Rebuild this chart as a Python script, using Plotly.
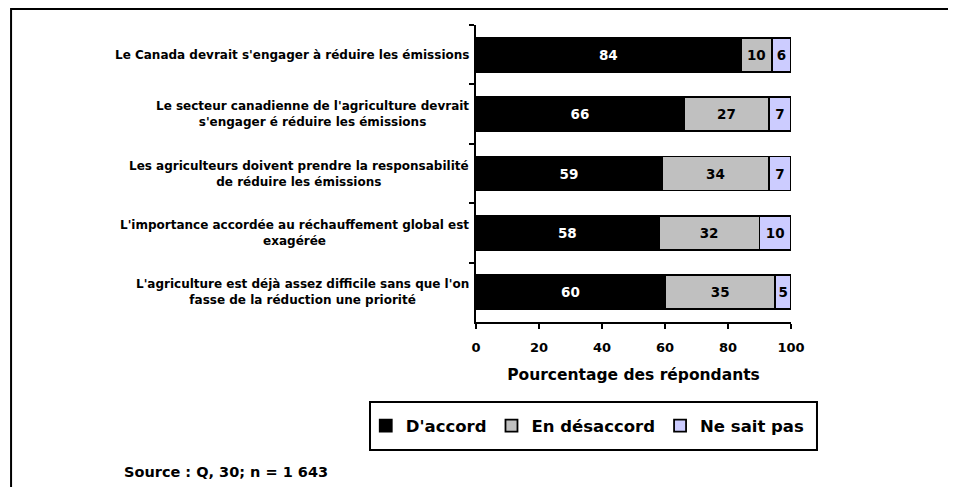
import plotly.graph_objects as go

questions = [
    "Le Canada devrait s'engager à réduire les émissions",
    "Le secteur canadienne de l'agriculture devrait<br>s'engager é réduire les émissions",
    "Les agriculteurs doivent prendre la responsabilité<br>de réduire les émissions",
    "L'importance accordée au réchauffement global est<br>exagérée",
    "L'agriculture est déjà assez difficile sans que l'on<br>fasse de la réduction une priorité",
]
accord = [84, 66, 59, 58, 60]
desaccord = [10, 27, 34, 32, 35]
ne_sait_pas = [6, 7, 7, 10, 5]
series_names = ["D'accord", "En désaccord", "Ne sait pas"]
x_ticks = [0, 20, 40, 60, 80, 100]

FONT = "DejaVu Sans"
colors = ["#000000", "#C0C0C0", "#CCCCFF"]
text_colors = ["#FFFFFF", "#000000", "#000000"]

fig = go.Figure()
for name, vals, col, tcol in zip(series_names, [accord, desaccord, ne_sait_pas], colors, text_colors):
    fig.add_trace(go.Bar(
        y=questions, x=vals, name=name, orientation="h",
        marker=dict(color=col, line=dict(color="black", width=1.8)),
        text=vals, textposition="inside", insidetextanchor="middle",
        textfont=dict(family=FONT, size=13.5, color=tcol, weight="bold"),
        cliponaxis=False,
    ))

# the page body adds an 8px offset, so margins are shifted by 8
fig.update_layout(
    barmode="stack", bargap=0.43,
    width=956, height=487,
    margin=dict(l=468, r=173, t=17, b=173),
    plot_bgcolor="white", paper_bgcolor="white",
    font=dict(family=FONT, color="black", weight="bold"),
    uniformtext=dict(minsize=13.5, mode="show"),
    showlegend=True,
    legend=dict(orientation="h", x=-0.35, xanchor="left", y=-0.35, yanchor="middle",
                font=dict(family=FONT, size=16.5, weight="bold"),
                bgcolor="rgba(0,0,0,0)", borderwidth=0, traceorder="normal"),
)

fig.update_xaxes(
    range=[0, 100], tickvals=x_ticks, showgrid=False, zeroline=False,
    showline=True, linecolor="black", linewidth=2,
    ticks="outside", ticklen=5, tickwidth=2, tickcolor="black",
    tickfont=dict(family=FONT, size=13, weight="bold"), ticklabelstandoff=7,
    title=dict(text="Pourcentage des répondants", standoff=16,
               font=dict(family=FONT, size=15.5, weight="bold")),
)
fig.update_yaxes(
    autorange="reversed", showgrid=False, zeroline=False,
    showline=True, linecolor="black", linewidth=2,
    ticks="outside", tickson="boundaries", ticklen=5, tickwidth=2, tickcolor="black",
    showticklabels=False,
)

# category labels, centered multi-line like the original
for q in questions:
    fig.add_annotation(x=0, xref="paper", y=q, yref="y", text=q, showarrow=False,
                       xanchor="right", xshift=-5, align="center",
                       font=dict(family=FONT, size=12, weight="bold"))

fig.add_annotation(x=-1.124, xref="paper", y=-0.505, yref="paper", text="Source : Q, 30; n = 1 643",
                   showarrow=False, xanchor="left", yanchor="middle",
                   font=dict(family=FONT, size=14.5, weight="bold"))

# outer frame and legend box
fig.add_shape(type="rect", xref="paper", yref="paper", x0=-1.476, x1=1.6, y0=-0.62, y1=1.0539,
              line=dict(color="black", width=2), layer="below")
fig.add_shape(type="rect", xref="paper", yref="paper", x0=-0.3365, x1=1.0825, y0=-0.431, y1=-0.269,
              line=dict(color="black", width=2))

fig.write_html("out.html")
